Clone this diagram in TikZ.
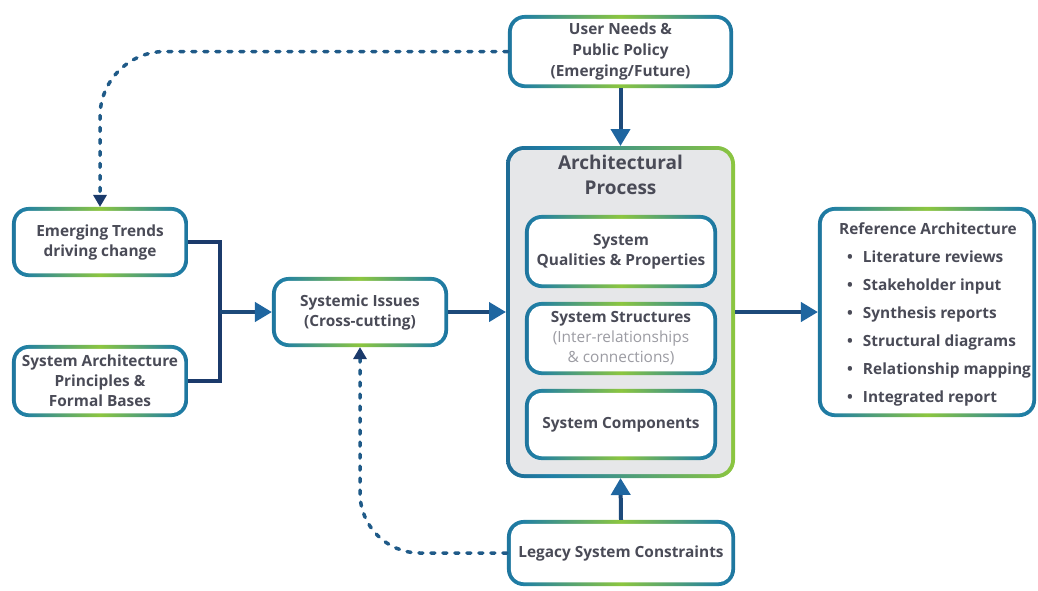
\documentclass[tikz,border=0pt]{standalone}
\usepackage{fontspec}
\setmainfont{Open Sans}
\usetikzlibrary{arrows.meta,backgrounds,calc}

\definecolor{navy}{HTML}{1B3A6B}
\definecolor{tealb}{HTML}{1F7FA6}
\definecolor{lgreen}{HTML}{8CC63F}
\definecolor{txt}{HTML}{4A4B57}
\definecolor{subtxt}{HTML}{9C9CA3}
\definecolor{panel}{HTML}{E6E7E9}
\definecolor{arrowline}{HTML}{1D4A7A}
\definecolor{arrowtip}{HTML}{1F66A0}
\definecolor{dashc}{HTML}{1F5A88}

% gradient used for the box outlines
\pgfdeclarehorizontalshading{gborder}{100bp}{color(0bp)=(navy); color(6bp)=(navy); color(28bp)=(tealb); color(50bp)=(lgreen); color(72bp)=(tealb); color(94bp)=(navy); color(100bp)=(navy)}
\pgfdeclarehorizontalshading{archborder}{100bp}{color(0bp)=(navy); color(35bp)=(tealb); color(75bp)=(lgreen); color(100bp)=(lgreen)}

\pgfdeclarelayer{outlinesA}
\pgfdeclarelayer{outlinesB}
\pgfdeclarelayer{innerboxes}
\pgfsetlayers{outlinesA,main,outlinesB,innerboxes}

\newcommand{\subline}[1]{\textcolor{subtxt}{\mdseries #1}}

\tikzset{
  box/.style={rounded corners=13pt, fill=white, outer sep=3.8pt, inner sep=0pt,
    text=txt, font=\bfseries\fontsize{15.4}{20}\selectfont, align=center},
  conn/.style={line width=4pt, draw=navy},
  arr/.style={line width=4pt, draw=arrowline, -{Triangle[length=17pt,width=19pt,color=arrowtip]}},
  dasharr/.style={line width=3.5pt, draw=dashc, line cap=round, dash pattern=on 4pt off 8pt,
    -{Triangle[length=12pt,width=13pt,color=navy]}},
}

\begin{document}
\begin{tikzpicture}[x=1pt,y=-1pt]
\useasboundingbox (0,0) rectangle (1038,590);

% outer boxes
\node[box, minimum width=217.5pt, minimum height=65.5pt, font=\bfseries\fontsize{15.4}{21}\selectfont] (user) at (620.5,51.5) {User Needs \&\\Public Policy\\(Emerging/Future)};
\node[box, minimum width=168.5pt, minimum height=62.5pt] (trend) at (100,242) {Emerging Trends\\driving change};
\node[box, minimum width=168.5pt, minimum height=64.5pt] (sap) at (100,381) {System Architecture\\Principles \&\\Formal Bases};
\node[box, minimum width=168.5pt, minimum height=62.5pt] (issues) at (360,312) {Systemic Issues\\(Cross-cutting)};
\node[box, fill=panel, minimum width=221pt, minimum height=324pt, outer sep=4pt, rounded corners=14pt] (arch) at (620.5,312) {};
\node[text=txt, font=\bfseries\fontsize{19}{25}\selectfont, align=center] (archtitle) at (620.5,175) {Architectural\\Process};
\node[box, minimum width=210.5pt, minimum height=202.5pt] (ref) at (927,312) {};
\node[text=txt, font=\bfseries\fontsize{15.4}{17}\selectfont, anchor=west, inner sep=0pt] (reflist) at (839,313) {%
  \renewcommand\arraystretch{1.65}%
  \begin{tabular}{@{}l@{}}
  Reference Architecture\\
  \hspace{8pt}\textbullet\hspace{10pt}Literature reviews\\
  \hspace{8pt}\textbullet\hspace{10pt}Stakeholder input\\
  \hspace{8pt}\textbullet\hspace{10pt}Synthesis reports\\
  \hspace{8pt}\textbullet\hspace{10pt}Structural diagrams\\
  \hspace{8pt}\textbullet\hspace{10pt}Relationship mapping\\
  \hspace{8pt}\textbullet\hspace{10pt}Integrated report
  \end{tabular}};
\node[box, minimum width=220.5pt, minimum height=58.5pt] (legacy) at (621,553) {Legacy System Constraints};

% boxes inside the process panel
\begin{pgfonlayer}{innerboxes}
\node[box, minimum width=184.5pt, minimum height=65.5pt] (qual) at (621,251.5) {System\\Qualities \& Properties};
\node[box, minimum width=184.5pt, minimum height=65.5pt] (struct) at (621,338.5) {System Structures\\\subline{(Inter-relationships}\\\subline{\& connections)}};
\node[box, minimum width=184.5pt, minimum height=63.5pt] (comp) at (621,424.5) {System Components};
\end{pgfonlayer}

% gradient outlines
\begin{pgfonlayer}{outlinesA}
\foreach \n in {user,trend,sap,issues,ref,legacy}
  \shade[shading=gborder, rounded corners=16.8pt] (\n.south west) rectangle (\n.north east);
\shade[shading=archborder, rounded corners=18pt] (arch.south west) rectangle (arch.north east);
\end{pgfonlayer}
\begin{pgfonlayer}{outlinesB}
\foreach \n in {qual,struct,comp}
  \shade[shading=gborder, rounded corners=16.8pt] (\n.south west) rectangle (\n.north east);
\end{pgfonlayer}

% connectors
\coordinate (j) at (220,312);
\draw[conn] (trend.east) -| (j) |- (sap.east);
\draw[arr] (j) -- (issues.west);
\draw[arr] (issues.east) -- (arch.west);
\draw[arr] (arch.east) -- (ref.west);
\draw[arr] (user.south) -- (arch.north);
\draw[arr] (legacy.north) -- (arch.south);
\draw[dasharr, rounded corners=65pt] (user.west) -| (trend.north);
\draw[dasharr, rounded corners=60pt] (legacy.west) -| (issues.south);
\end{tikzpicture}
\end{document}
